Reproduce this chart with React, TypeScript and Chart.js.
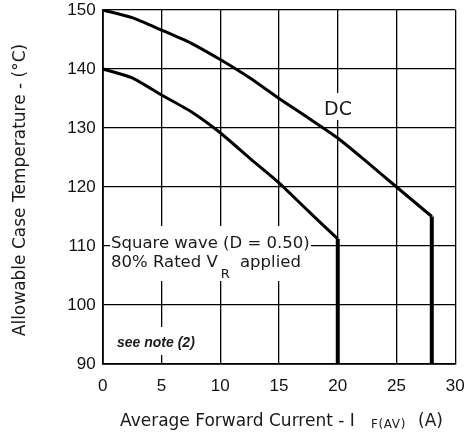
import React, { useEffect, useRef } from "react";
import { Chart, registerables } from "chart.js";

Chart.register(...registerables);

// ---- data ----
const dcCurrent = [0, 2.5, 5, 7.5, 10, 12.5, 15, 17.5, 20, 22.5, 25, 28];
const dcTemp = [150, 148.7, 146.6, 144.4, 141.6, 138.5, 135.0, 131.7, 128.3, 124.2, 120.0, 115.0];
const sqCurrent = [0, 2.5, 5, 7.5, 10, 12.5, 15, 17.5, 20];
const sqTemp = [140, 138.5, 135.6, 132.8, 129.2, 124.9, 120.7, 115.9, 111.2];

const xMin = 0;
const xMax = 30;
const xStep = 5;
const yMin = 90;
const yMax = 150;
const yStep = 10;

const yTitle = "Allowable Case Temperature - (°C)";
const xTitleMain = "Average Forward Current - I";
const xTitleSub = "F(AV)";
const xTitleUnit = "(A)";
const dcLabel = "DC";
const sqLine1 = "Square wave (D = 0.50)";
const sqLine2a = "80% Rated V";
const sqLine2sub = "R";
const sqLine2b = "applied";
const noteLabel = "see note (2)";

const FONT = "'DejaVu Sans', sans-serif";
const TICK_FONT = "'Liberation Sans', Arial, sans-serif";

const toPts = (xs: number[], ys: number[]) => xs.map((x, i) => ({ x, y: ys[i] }));
const dropLine = (xs: number[], ys: number[]) => [
  { x: xs[xs.length - 1], y: ys[ys.length - 1] },
  { x: xs[xs.length - 1], y: yMin },
];

const annotPlugin = {
  id: "annot",
  beforeDatasetsDraw(chart: any) {
    const ctx = chart.ctx as CanvasRenderingContext2D;
    ctx.save();
    ctx.fillStyle = "#fff";
    // white backgrounds (cover grid lines)
    ctx.fillRect(110, 226, 201, 55);
    ctx.fillRect(321, 93, 34, 27);
    ctx.fillRect(113, 327, 89, 28);

    ctx.fillStyle = "#1a1a1a";
    ctx.textBaseline = "alphabetic";
    ctx.textAlign = "left";
    ctx.font = `16.5px ${FONT}`;
    ctx.fillText(sqLine1, 111, 247.5);
    ctx.fillText(sqLine2a, 111, 266.5);
    const w2 = ctx.measureText(sqLine2a).width;
    ctx.font = `13px ${FONT}`;
    ctx.fillText(sqLine2sub, 111 + w2 + 3, 277.5);
    ctx.font = `16.5px ${FONT}`;
    ctx.fillText(sqLine2b, 240, 266.5);

    ctx.font = `19px ${FONT}`;
    ctx.textAlign = "center";
    ctx.fillText(dcLabel, 338, 115);

    ctx.textAlign = "left";
    ctx.font = `italic bold 14px ${TICK_FONT}`;
    ctx.fillText(noteLabel, 117, 347);
    ctx.restore();
  },
  afterDraw(chart: any) {
    const ctx = chart.ctx as CanvasRenderingContext2D;
    ctx.save();
    ctx.fillStyle = "#1a1a1a";
    ctx.textBaseline = "alphabetic";
    // y title
    ctx.save();
    ctx.translate(24.5, 190);
    ctx.rotate(-Math.PI / 2);
    ctx.textAlign = "center";
    ctx.font = `17px ${FONT}`;
    ctx.fillText(yTitle, 0, 0);
    ctx.restore();
    // x title
    ctx.textAlign = "left";
    ctx.font = `17px ${FONT}`;
    ctx.fillText(xTitleMain, 120, 425.5);
    ctx.save();
    (ctx as any).letterSpacing = "0.6px";
    ctx.font = `12px ${FONT}`;
    ctx.fillText(xTitleSub, 371, 427.5);
    ctx.restore();
    ctx.font = `17px ${FONT}`;
    ctx.fillText(xTitleUnit, 418, 425.5);
    ctx.restore();
  },
};

export default function App() {
  const ref = useRef<HTMLCanvasElement | null>(null);
  useEffect(() => {
    if (!ref.current) return;
    const chart = new Chart(ref.current, {
      type: "line",
      data: {
        datasets: [
          {
            data: toPts(dcCurrent, dcTemp),
            borderColor: "#000",
            borderWidth: 3,
            pointRadius: 0,
            tension: 0.2,
            fill: false,
          },
          {
            data: dropLine(dcCurrent, dcTemp),
            borderColor: "#000",
            borderWidth: 4,
            pointRadius: 0,
            fill: false,
          },
          {
            data: toPts(sqCurrent, sqTemp),
            borderColor: "#000",
            borderWidth: 3,
            pointRadius: 0,
            tension: 0.2,
            fill: false,
          },
          {
            data: dropLine(sqCurrent, sqTemp),
            borderColor: "#000",
            borderWidth: 4,
            pointRadius: 0,
            fill: false,
          },
        ],
      },
      options: {
        responsive: false,
        animation: false,
        layout: { padding: { left: 0, top: 10, right: 12.7, bottom: 0 } },
        plugins: { legend: { display: false }, tooltip: { enabled: false } },
        scales: {
          x: {
            type: "linear",
            min: xMin,
            max: xMax,
            ticks: {
              stepSize: xStep,
              padding: 12,
              color: "#111",
              font: { family: TICK_FONT, size: 17 },
            },
            grid: { color: "#000", lineWidth: 1.3, drawTicks: false },
            border: { display: true, color: "#000", width: 1.8 },
            afterFit(scale: any) {
              scale.height = 71;
              scale.paddingLeft = 0;
              scale.paddingRight = 0;
              scale.paddingTop = 0;
              scale.paddingBottom = 0;
            },
          },
          y: {
            type: "linear",
            min: yMin,
            max: yMax,
            ticks: {
              stepSize: yStep,
              padding: 7,
              color: "#111",
              font: { family: TICK_FONT, size: 17 },
            },
            grid: { color: "#000", lineWidth: 1.3, drawTicks: false },
            border: { display: true, color: "#000", width: 1.8 },
            afterFit(scale: any) {
              scale.width = 102.7;
              scale.paddingLeft = 0;
              scale.paddingRight = 0;
              scale.paddingTop = 0;
              scale.paddingBottom = 0;
            },
          },
        },
      },
      plugins: [annotPlugin],
    } as any);
    return () => chart.destroy();
  }, []);
  return (
    <div style={{ position: "absolute", left: 0, top: 0, width: 468, height: 435, background: "#fff" }}>
      <canvas ref={ref} width={468} height={435} style={{ display: "block" }} />
    </div>
  );
}
